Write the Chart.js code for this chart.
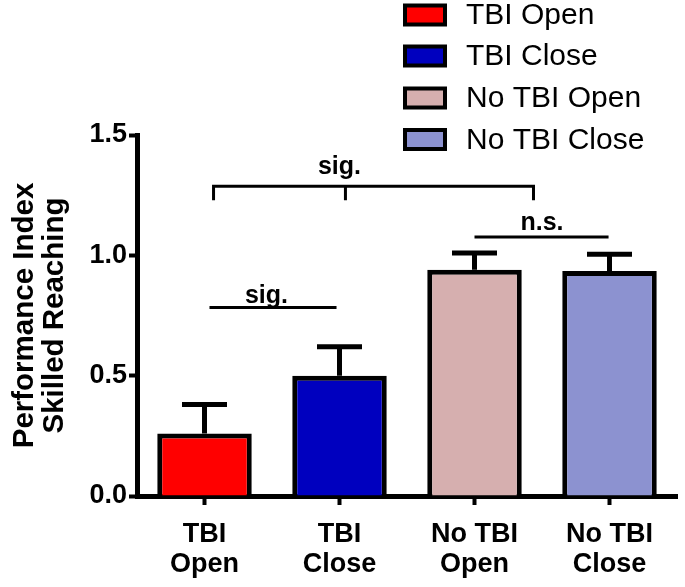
<!DOCTYPE html>
<html>
<head>
<meta charset="utf-8">
<script src="https://cdn.jsdelivr.net/npm/chart.js@4/dist/chart.umd.min.js"></script>
<style>
  html, body { margin: 0; padding: 0; background: #ffffff; }
  #wrap { width: 685px; height: 587px; position: relative; }
</style>
</head>
<body>
<div id="wrap"><canvas id="c" width="685" height="587"></canvas></div>
<script>
// ---- data ----
const categories = [['TBI', 'Open'], ['TBI', 'Close'], ['No TBI', 'Open'], ['No TBI', 'Close']];
const legendLabels = ['TBI Open', 'TBI Close', 'No TBI Open', 'No TBI Close'];
const means = [0.26, 0.50, 0.94, 0.935];
const sem = [0.12, 0.12, 0.07, 0.07];
const yTicks = [0.0, 0.5, 1.0, 1.5];
const barColors = ['#FF0000', '#0000BF', '#D6AFAF', '#8C92D0'];

// significance annotations (category index units / value units)
const sigTopLine = { x: [0.067, 1.044, 2.437], y: 1.2875, drop: 1.229, text: 'sig.', textX: 1.0, gap: 12 };
const sigLowLine = { x: [0.037, 0.978], y: 0.783, text: 'sig.', textX: 0.459, gap: 5 };
const nsLine = { x: [2.0, 2.993], y: 1.076, text: 'n.s.', textX: 2.5, gap: 7 };

const FONT = '"Liberation Sans", Arial, sans-serif';

const errorBarPlugin = {
  id: 'errorBars',
  afterDatasetsDraw(chart) {
    const ctx = chart.ctx;
    const meta = chart.getDatasetMeta(0);
    const y = chart.scales.y;
    ctx.save();
    ctx.strokeStyle = '#000';
    ctx.lineWidth = 5;
    meta.data.forEach((bar, i) => {
      const top = y.getPixelForValue(means[i] + sem[i]);
      const base = y.getPixelForValue(means[i]);
      ctx.beginPath();
      ctx.moveTo(bar.x, base);
      ctx.lineTo(bar.x, top);
      ctx.moveTo(bar.x - 22.5, top);
      ctx.lineTo(bar.x + 22.5, top);
      ctx.stroke();
    });
    ctx.restore();
  }
};

const annotationPlugin = {
  id: 'sigAnnotations',
  afterDraw(chart) {
    const ctx = chart.ctx;
    const xs = chart.scales.x, ys = chart.scales.y;
    const px = v => xs.getPixelForValue(v);
    const py = v => ys.getPixelForValue(v);
    ctx.save();
    ctx.strokeStyle = '#000';
    ctx.fillStyle = '#000';
    ctx.lineWidth = 3;
    ctx.font = 'bold 25px ' + FONT;
    ctx.textAlign = 'center';
    ctx.textBaseline = 'alphabetic';
    // top bracket
    const ty = py(sigTopLine.y), td = py(sigTopLine.drop);
    ctx.beginPath();
    ctx.moveTo(px(sigTopLine.x[0]), td);
    ctx.lineTo(px(sigTopLine.x[0]), ty);
    ctx.lineTo(px(sigTopLine.x[2]), ty);
    ctx.lineTo(px(sigTopLine.x[2]), td);
    ctx.moveTo(px(sigTopLine.x[1]), ty);
    ctx.lineTo(px(sigTopLine.x[1]), td);
    ctx.stroke();
    ctx.fillText(sigTopLine.text, px(sigTopLine.textX), ty - sigTopLine.gap);
    // simple lines
    [sigLowLine, nsLine].forEach(a => {
      const yy = py(a.y);
      ctx.beginPath();
      ctx.moveTo(px(a.x[0]), yy);
      ctx.lineTo(px(a.x[1]), yy);
      ctx.stroke();
      ctx.fillText(a.text, px(a.textX), yy - a.gap);
    });
    ctx.restore();
  }
};

const legendPlugin = {
  id: 'boxLegend',
  afterDraw(chart) {
    const ctx = chart.ctx;
    const ds = chart.data.datasets[0];
    const boxX = 403, boxW = 44, boxH = 23, textX = 466;
    const centers = [15, 56, 98, 139.5];
    ctx.save();
    ctx.font = '30px ' + FONT;
    ctx.textBaseline = 'middle';
    ctx.textAlign = 'left';
    legendLabels.forEach((lab, i) => {
      const cy = centers[i];
      ctx.fillStyle = '#000';
      ctx.fillRect(boxX, cy - boxH / 2, boxW, boxH);
      ctx.fillStyle = ds.backgroundColor[i];
      ctx.fillRect(boxX + 4, cy - boxH / 2 + 4, boxW - 8, boxH - 8);
      ctx.fillStyle = '#000';
      ctx.fillText(lab, textX, cy + 1);
    });
    ctx.restore();
  }
};

new Chart(document.getElementById('c'), {
  type: 'bar',
  data: {
    labels: categories,
    datasets: [{
      data: means,
      backgroundColor: barColors,
      borderColor: '#000',
      borderWidth: 5,
      barPercentage: 0.7,
      categoryPercentage: 1.0
    }]
  },
  options: {
    responsive: false,
    animation: false,
    devicePixelRatio: 1,
    layout: { padding: { top: 135, left: 0, right: 8, bottom: 0 } },
    plugins: {
      legend: { display: false },
      tooltip: { enabled: false }
    },
    scales: {
      x: {
        grid: { display: true, drawOnChartArea: false, offset: false, tickLength: 9, tickWidth: 4, tickColor: '#000' },
        border: { display: true, color: '#000', width: 5 },
        ticks: {
          color: '#000',
          padding: 15,
          maxRotation: 0,
          font: { family: FONT, size: 27, weight: 'bold', lineHeight: 1.1 }
        },
        afterFit(scale) { scale.height = 91; }
      },
      y: {
        min: 0,
        max: 1.5,
        afterBuildTicks(scale) { scale.ticks = yTicks.map(v => ({ value: v })); },
        grid: { display: true, drawOnChartArea: false, tickLength: 8, tickWidth: 4, tickColor: '#000' },
        border: { display: true, color: '#000', width: 5 },
        ticks: {
          color: '#000',
          padding: 2,
          font: { family: FONT, size: 27, weight: 'bold' },
          callback: v => Number(v).toFixed(1)
        },
        title: {
          display: true,
          text: ['Performance Index', 'Skilled Reaching'],
          color: '#000',
          padding: { top: 10, bottom: 0 },
          font: { family: FONT, size: 29.5, weight: 'bold', lineHeight: 1.02 }
        },
        afterFit(scale) { scale.width = 137; }
      }
    }
  },
  plugins: [errorBarPlugin, annotationPlugin, legendPlugin]
});
</script>
</body>
</html>
